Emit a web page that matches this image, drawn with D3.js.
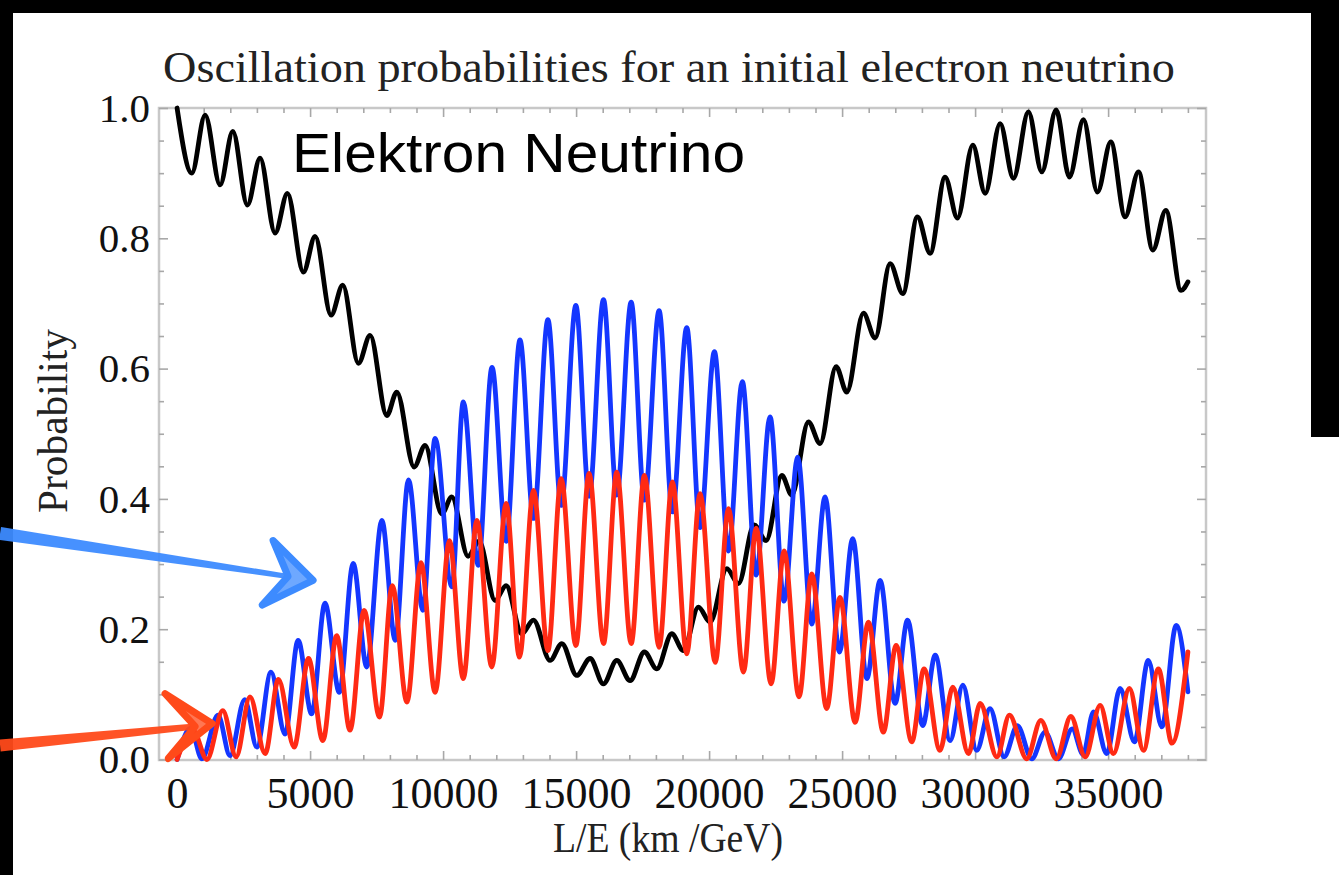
<!DOCTYPE html>
<html><head><meta charset="utf-8">
<script src="https://cdn.jsdelivr.net/npm/d3@7"></script>
<style>html,body{margin:0;padding:0;background:#000}svg{display:block}</style>
</head><body>
<svg id="c" width="1339" height="875"></svg>
<script>
// ---- data (L/E in km/GeV, probability) ----
const blackX = [0,553,1053,1617,2094,2643,3120,3684,4147,4748,5188,5789,6229,6816,7256,7883,8260,8910,9323,9951,10327,10940,11353,11955,12368,12959,13395,14023,14463,15026,15526,16027,16530,17030,17568,18034,18598,19034,19598,20038,20665,21102,21692,22143,22733,23109,23733,24173,24774,25177,25801,26241,26805,27282,27831,28308,28872,29335,29914,30376,30940,31440,32004,32507,33045,33545,34072,34598,35101,35639,36140,36681,37169,37744,38000];
const blackY = [1.0,0.900,0.989,0.882,0.964,0.851,0.923,0.808,0.869,0.748,0.803,0.682,0.728,0.608,0.651,0.528,0.564,0.449,0.482,0.377,0.403,0.312,0.335,0.244,0.267,0.193,0.214,0.152,0.178,0.129,0.155,0.116,0.152,0.121,0.165,0.139,0.193,0.167,0.234,0.211,0.293,0.270,0.360,0.336,0.436,0.406,0.518,0.485,0.603,0.564,0.685,0.647,0.761,0.715,0.833,0.777,0.894,0.831,0.943,0.869,0.976,0.892,0.994,0.902,0.997,0.894,0.982,0.871,0.948,0.833,0.902,0.782,0.843,0.720,0.733];

const blueX = [0,510,930,1540,1990,2540,3000,3530,4060,4550,5060,5560,6100,6620,7130,7700,8200,8700,9240,9700,10330,10760,11320,11840,12370,12890,13400,13940,14440,14990,15490,16030,16530,17070,17570,18120,18620,19160,19660,20200,20730,21250,21770,22290,22820,23330,23860,24360,24900,25400,25930,26430,26990,27460,28030,28500,29060,29540,30060,30560,31090,31590,32130,32630,33130,33650,34060,34450,34950,35450,35990,36510,37020,37560,38000];
const blueY = [0,0.048,0.001,0.068,0.006,0.092,0.019,0.134,0.039,0.183,0.070,0.240,0.103,0.301,0.142,0.367,0.183,0.429,0.229,0.493,0.265,0.549,0.298,0.602,0.335,0.644,0.370,0.675,0.390,0.697,0.404,0.706,0.406,0.702,0.398,0.689,0.380,0.663,0.356,0.626,0.320,0.580,0.283,0.526,0.243,0.464,0.208,0.403,0.165,0.339,0.124,0.275,0.086,0.214,0.052,0.160,0.029,0.114,0.014,0.078,0.004,0.052,0.001,0.042,0.001,0.047,0.008,0.073,0.009,0.109,0.027,0.152,0.050,0.206,0.104];

const redX = [0,600,1120,1720,2220,2740,3310,3810,4400,4940,5480,6000,6500,7030,7610,8090,8640,9170,9700,10240,10760,11270,11830,12370,12870,13400,13940,14440,14990,15490,16030,16530,17070,17570,18120,18620,19160,19660,20230,20730,21290,21770,22330,22820,23380,23860,24420,24920,25490,25990,26550,27030,27620,28080,28680,29160,29750,30190,30820,31290,31940,32470,33050,33600,34140,34700,35200,35800,36330,36890,37400,38000];
const redY = [0,0.045,0.0,0.075,0.004,0.096,0.009,0.123,0.019,0.155,0.029,0.190,0.045,0.229,0.065,0.267,0.088,0.302,0.103,0.336,0.124,0.367,0.142,0.393,0.157,0.413,0.167,0.431,0.175,0.439,0.178,0.441,0.178,0.436,0.172,0.426,0.162,0.408,0.149,0.385,0.134,0.355,0.116,0.320,0.096,0.285,0.078,0.249,0.057,0.211,0.042,0.175,0.027,0.139,0.014,0.111,0.009,0.086,0.004,0.068,0.001,0.060,0.001,0.066,0.004,0.083,0.009,0.109,0.014,0.139,0.025,0.165];

const xMajorTicks = [0,5000,10000,15000,20000,25000,30000,35000];
const xTickLabels = ["0","5000","10000","15000","20000","25000","30000","35000"];
const yMajorTicks = [0,0.2,0.4,0.6,0.8,1.0];
const yTickLabels = ["0.0","0.2","0.4","0.6","0.8","1.0"];

const titleText = "Oscillation probabilities for an initial electron neutrino";
const xLabel = "L/E (km /GeV)";
const yLabel = "Probability";
const noteText = "Elektron Neutrino";

// hand-drawn arrows (annotation, in data units)
const blueArrow = {start:[-6654,0.347], notch:[4173,0.281], tip:[5113,0.275], barbA:[3609,0.336], barbB:[3196,0.237]};
const redArrow  = {start:[-6654,0.0215], notch:[677,0.0507], tip:[1316,0.0553], barbA:[-451,0.101], barbB:[-338,0.0015]};

// ---- drawing ----
const W = 1339, H = 875;
const svg = d3.select('#c');
svg.append('rect').attr('width', W).attr('height', H).attr('fill', '#000');
svg.append('rect').attr('x', 13).attr('y', 13).attr('width', 1298).attr('height', H - 13).attr('fill', '#fff');
svg.append('rect').attr('x', 1311).attr('y', 437).attr('width', W - 1311).attr('height', H - 437).attr('fill', '#fff');

const x = d3.scaleLinear().domain([-680, 38680]).range([159, 1206]);
const y = d3.scaleLinear().domain([0, 1]).range([759.5, 108]);
const L = 159, R = 1206, T = 108, B = 760;

const serif = "'Liberation Serif','Times New Roman',serif";
const sans = "'Liberation Sans',Arial,Helvetica,sans-serif";

// frame
svg.append('rect').attr('x', L).attr('y', T).attr('width', R - L).attr('height', B - T)
  .attr('fill', 'none').attr('stroke', '#c8c8c8').attr('stroke-width', 2.5);

const xMinor = d3.range(0, 38001, 1000).filter(v => v % 5000 !== 0);
const yMinor = d3.range(0, 21).map(i => i * 0.05).filter((v, i) => i % 4 !== 0);

function styleAxis(g) {
  g.select('.domain').remove();
  g.selectAll('.tick line').attr('stroke', '#a8a8a8').attr('stroke-width', 1.6);
}
// bottom
svg.append('g').attr('transform', `translate(0,${B})`)
  .call(d3.axisBottom(x).tickValues(xMajorTicks).tickSize(-9).tickPadding(17)
    .tickFormat((d, i) => xTickLabels[i]))
  .call(styleAxis)
  .call(g => g.selectAll('text').attr('font-family', serif).attr('font-size', 44).attr('fill', '#111'));
svg.append('g').attr('transform', `translate(0,${B})`)
  .call(d3.axisBottom(x).tickValues(xMinor).tickSize(-5).tickFormat('')).call(styleAxis);
// top
svg.append('g').attr('transform', `translate(0,${T})`)
  .call(d3.axisTop(x).tickValues(xMajorTicks).tickSize(-9).tickFormat('')).call(styleAxis);
svg.append('g').attr('transform', `translate(0,${T})`)
  .call(d3.axisTop(x).tickValues(xMinor).tickSize(-5).tickFormat('')).call(styleAxis);
// left
svg.append('g').attr('transform', `translate(${L},0)`)
  .call(d3.axisLeft(y).tickValues(yMajorTicks).tickSize(-9).tickPadding(9)
    .tickFormat((d, i) => yTickLabels[i]))
  .call(styleAxis)
  .call(g => g.selectAll('text').attr('font-family', serif).attr('font-size', 41).attr('fill', '#111'));
svg.append('g').attr('transform', `translate(${L},0)`)
  .call(d3.axisLeft(y).tickValues(yMinor).tickSize(-5).tickFormat('')).call(styleAxis);
// right
svg.append('g').attr('transform', `translate(${R},0)`)
  .call(d3.axisRight(y).tickValues(yMajorTicks).tickSize(-9).tickFormat('')).call(styleAxis);
svg.append('g').attr('transform', `translate(${R},0)`)
  .call(d3.axisRight(y).tickValues(yMinor).tickSize(-5).tickFormat('')).call(styleAxis);

// curves
const line = d3.line().x(d => x(d[0])).y(d => y(d[1])).curve(d3.curveMonotoneX);
const series = [
  {xs: blackX, ys: blackY, color: '#000000'},
  {xs: blueX, ys: blueY, color: '#1436ff'},
  {xs: redX, ys: redY, color: '#ff2a14'}
];
svg.append('clipPath').attr('id', 'pc').append('rect')
  .attr('x', L).attr('y', T - 4).attr('width', R - L).attr('height', B - T + 6);
series.forEach(s => {
  svg.append('path').datum(s.xs.map((v, i) => [v, s.ys[i]]))
    .attr('d', line).attr('fill', 'none').attr('stroke', s.color)
    .attr('stroke-width', 4.8).attr('stroke-linejoin', 'round').attr('stroke-linecap', 'round')
    .attr('clip-path', 'url(#pc)');
});

// texts
svg.append('text').attr('x', 669).attr('y', 82).attr('text-anchor', 'middle')
  .attr('font-family', serif).attr('font-size', 45).attr('fill', '#222')
  .attr('textLength', 1012).attr('lengthAdjust', 'spacingAndGlyphs').text(titleText);
svg.append('text').attr('x', 668).attr('y', 852).attr('text-anchor', 'middle')
  .attr('font-family', serif).attr('font-size', 43).attr('fill', '#222')
  .attr('textLength', 230).attr('lengthAdjust', 'spacingAndGlyphs').text(xLabel);
svg.append('text').attr('transform', 'translate(67,421) rotate(-90)').attr('text-anchor', 'middle')
  .attr('font-family', serif).attr('font-size', 42).attr('fill', '#222')
  .attr('textLength', 184).attr('lengthAdjust', 'spacingAndGlyphs').text(yLabel);
svg.append('text').attr('x', 292).attr('y', 172)
  .attr('font-family', sans).attr('font-size', 56).attr('fill', '#000')
  .attr('textLength', 453).attr('lengthAdjust', 'spacingAndGlyphs').text(noteText);

// arrows
function drawArrow(a, color, w0, w1) {
  const P = p => [x(p[0]), y(p[1])];
  const s = P(a.start), n = P(a.notch), t = P(a.tip), ba = P(a.barbA), bb = P(a.barbB);
  const dx = n[0] - s[0], dy = n[1] - s[1], len = Math.hypot(dx, dy);
  const nx = -dy / len, ny = dx / len;
  const shaft = [[s[0] + nx * w0 / 2, s[1] + ny * w0 / 2], [n[0] + nx * w1 / 2, n[1] + ny * w1 / 2],
                 [n[0] - nx * w1 / 2, n[1] - ny * w1 / 2], [s[0] - nx * w0 / 2, s[1] - ny * w0 / 2]];
  svg.append('path').attr('d', d3.line()(shaft) + 'Z').attr('fill', color).attr('opacity', 0.95);
  svg.append('path').attr('d', d3.line()([ba, t, bb, n]) + 'Z').attr('fill', color).attr('fill-opacity', 0.75)
    .attr('stroke', color).attr('stroke-width', 7).attr('stroke-linejoin', 'round');
}
drawArrow(blueArrow, '#3d8bff', 13, 5);
drawArrow(redArrow, '#ff4a1a', 12, 6);
</script>
</body></html>
